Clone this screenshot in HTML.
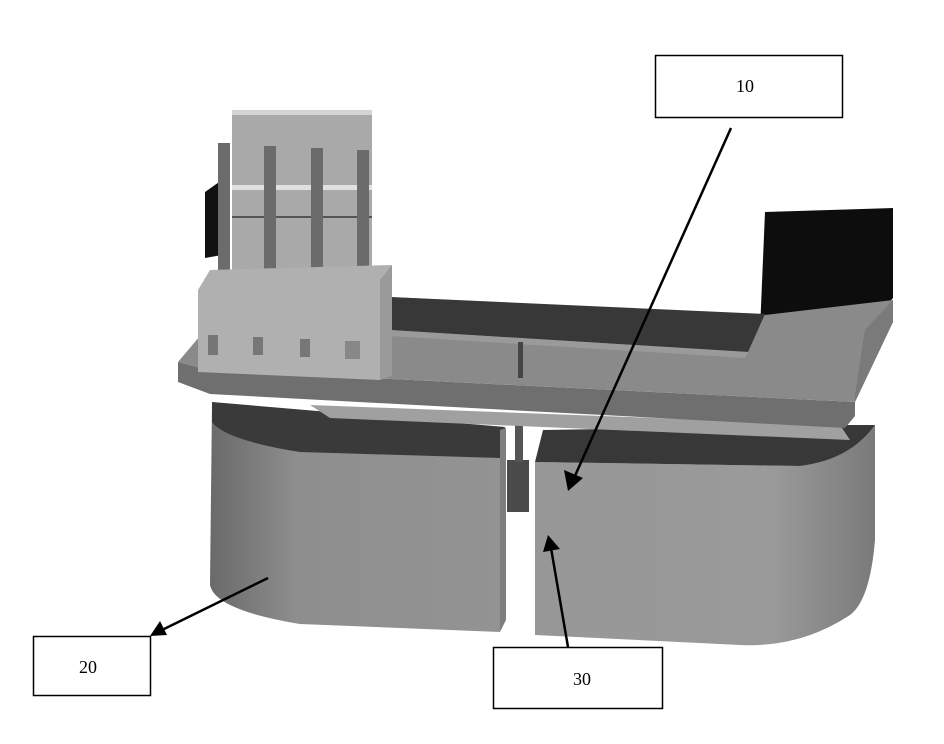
<!DOCTYPE html>
<html><head><meta charset="utf-8"><style>
html,body{margin:0;padding:0;background:#fff;width:944px;height:744px;overflow:hidden}
svg{display:block}
text{font-family:"Liberation Serif",serif;font-size:18px}
</style></head><body>
<svg width="944" height="744" viewBox="0 0 944 744" xmlns="http://www.w3.org/2000/svg">
<defs>
<linearGradient id="gl" x1="0" x2="1" y1="0" y2="0">
<stop offset="0" stop-color="#6a6a6a"/><stop offset="0.3" stop-color="#8e8e8e"/><stop offset="1" stop-color="#939393"/>
</linearGradient>
<linearGradient id="gr" x1="0" x2="1" y1="0" y2="0">
<stop offset="0" stop-color="#979797"/><stop offset="0.7" stop-color="#9a9a9a"/><stop offset="1" stop-color="#7a7a7a"/>
</linearGradient>
</defs>
<!-- right black box -->
<polygon points="765,212 893,208 893,298 862,335 760,330" fill="#0d0d0d"/>
<!-- lower core left block -->
<path d="M212,404 L500,428 L500,632 L300,624 Q215,610 210,585 Z" fill="url(#gl)"/>
<path d="M212,402 L505,427 L500,458 L300,452 Q225,440 212,422 Z" fill="#3a3a3a"/>
<polygon points="500,430 506,428 506,620 500,632" fill="#7e7e7e"/>
<!-- right block -->
<path d="M535,462 L800,466 Q850,460 875,425 L875,540 Q870,600 850,615 Q800,648 740,645 L535,635 Z" fill="url(#gr)"/>
<path d="M543,430 L850,425 L875,425 Q850,460 800,466 L535,462 Z" fill="#383838"/>
<!-- gap component -->
<rect x="507" y="460" width="22" height="52" fill="#4a4a4a"/>
<rect x="515" y="420" width="8" height="42" fill="#555"/>
<!-- plate underside light strip -->
<polygon points="310,405 840,425 850,440 330,418" fill="#a0a0a0"/>
<!-- plate front face -->
<polygon points="178,362 210,370 855,402 855,416 845,428 210,394 178,382" fill="#6f6f6f"/>
<!-- plate top surface -->
<polygon points="178,362 205,330 390,297 765,315 893,300 893,322 855,402 210,370" fill="#8a8a8a"/>
<polygon points="865,330 893,300 893,322 855,402 855,395" fill="#7a7a7a"/>
<!-- dark inset -->
<polygon points="390,297 765,314 748,352 390,330" fill="#383838"/>
<polygon points="390,330 748,352 745,358 390,336" fill="#9a9a9a"/>
<rect x="518" y="342" width="5" height="36" fill="#444"/>
<!-- connector -->
<polygon points="205,192 222,180 222,255 205,258" fill="#111"/>
<rect x="232" y="110" width="140" height="160" fill="#a9a9a9"/>
<rect x="232" y="110" width="140" height="5" fill="#d4d4d4"/>
<rect x="232" y="185" width="140" height="5" fill="#e0e0e0"/>
<rect x="232" y="216" width="140" height="2" fill="#555"/>
<rect x="218" y="143" width="12" height="130" fill="#6b6b6b"/>
<rect x="264" y="146" width="12" height="130" fill="#6b6b6b"/>
<rect x="311" y="148" width="12" height="130" fill="#6b6b6b"/>
<rect x="357" y="150" width="12" height="130" fill="#6b6b6b"/>
<polygon points="198,290 210,270 392,265 392,375 380,380 198,372" fill="#b0b0b0"/>
<polygon points="380,280 392,265 392,375 380,380" fill="#9a9a9a"/>
<rect x="208" y="335" width="10" height="20" fill="#777"/>
<rect x="253" y="337" width="10" height="18" fill="#777"/>
<rect x="300" y="339" width="10" height="18" fill="#777"/>
<rect x="345" y="341" width="15" height="18" fill="#888"/>
<!-- label boxes -->
<rect x="655.5" y="55.5" width="187" height="62" fill="#fff" stroke="#000" stroke-width="1.5"/>
<text x="745" y="92" text-anchor="middle">10</text>
<rect x="33.5" y="636.5" width="117" height="59" fill="#fff" stroke="#000" stroke-width="1.5"/>
<text x="88" y="673" text-anchor="middle">20</text>
<rect x="493.5" y="647.5" width="169" height="61" fill="#fff" stroke="#000" stroke-width="1.5"/>
<text x="582" y="685" text-anchor="middle">30</text>
<!-- arrows -->
<g stroke="#000" stroke-width="2.5" fill="#000">
<line x1="731" y1="128" x2="574" y2="478"/>
<line x1="268" y1="578" x2="162" y2="630"/>
<line x1="568" y1="647" x2="551" y2="548"/>
</g>
<polygon points="568,491 564,470 583,478" fill="#000"/>
<polygon points="150,636 160,621 167,635" fill="#000"/>
<polygon points="548,535 543,552 560,549" fill="#000"/>
</svg>
</body></html>
